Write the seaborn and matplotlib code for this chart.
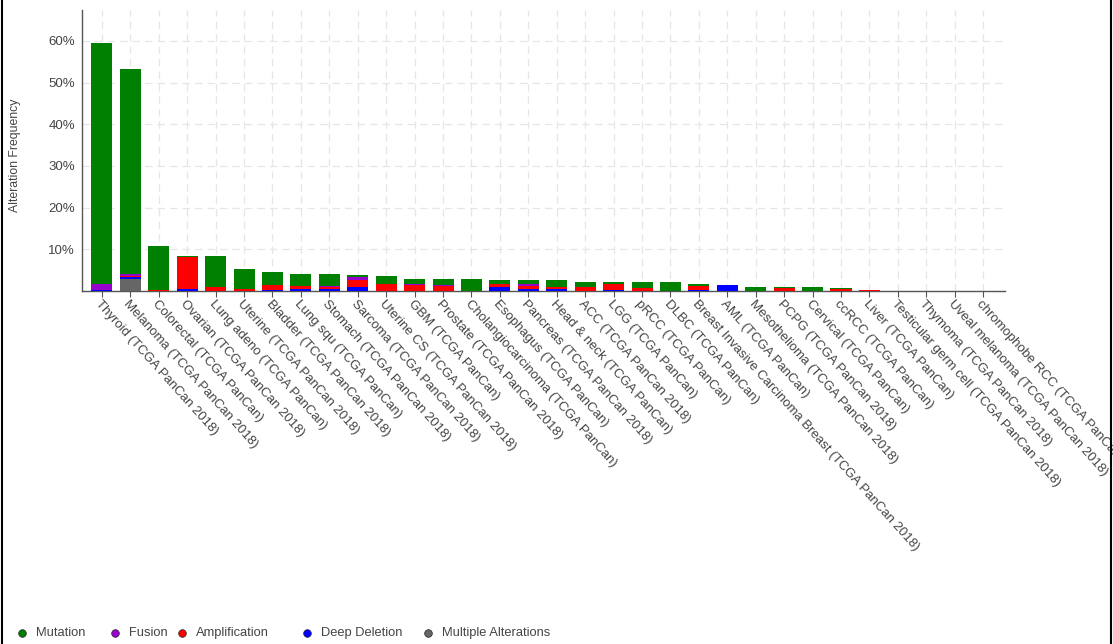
import matplotlib
matplotlib.use("Agg")
import matplotlib.pyplot as plt
from matplotlib.lines import Line2D
from matplotlib.ticker import FixedLocator, FuncFormatter
import seaborn as sns
import pandas as pd
import numpy as np

categories = [
    "Thyroid (TCGA PanCan 2018)", "Melanoma (TCGA PanCan 2018)", "Colorectal (TCGA PanCan)",
    "Ovarian (TCGA PanCan 2018)", "Lung adeno (TCGA PanCan)", "Uterine (TCGA PanCan 2018)",
    "Bladder (TCGA PanCan 2018)", "Lung squ (TCGA PanCan)", "Stomach (TCGA PanCan 2018)",
    "Sarcoma (TCGA PanCan 2018)", "Uterine CS (TCGA PanCan 2018)", "GBM (TCGA PanCan)",
    "Prostate (TCGA PanCan 2018)", "Cholangiocarcinoma (TCGA PanCan)", "Esophagus (TCGA PanCan)",
    "Pancreas (TCGA PanCan 2018)", "Head & neck (TCGA PanCan)", "ACC (TCGA PanCan 2018)",
    "LGG (TCGA PanCan)", "pRCC (TCGA PanCan)", "DLBC (TCGA PanCan)",
    "Breast Invasive Carcinoma Breast (TCGA PanCan 2018)", "AML (TCGA PanCan)",
    "Mesothelioma (TCGA PanCan 2018)", "PCPG (TCGA PanCan 2018)", "Cervical (TCGA PanCan)",
    "ccRCC (TCGA PanCan)", "Liver (TCGA PanCan)", "Testicular germ cell (TCGA PanCan 2018)",
    "Thymoma (TCGA PanCan 2018)", "Uveal melanoma (TCGA PanCan 2018)", "chromophobe RCC (TCGA PanCan)",
]

# alteration frequencies (%)
mutation = [57.9, 49.1, 10.5, 0.3, 7.4, 4.75, 3.2, 2.9, 3.0, 0.5, 1.7, 1.4, 1.5, 2.8, 1.0, 0.95,
            1.75, 1.1, 0.45, 1.45, 2.1, 0.55, 0.0, 1.1, 0.45, 1.0, 0.35, 0.0, 0.0, 0.0, 0.0, 0.0]
fusion = [1.3, 0.6, 0.1, 0.1, 0.0, 0.0, 0.0, 0.0, 0.15, 0.7, 0.0, 0.1, 0.15, 0.0, 0.0, 0.5,
          0.0, 0.0, 0.0, 0.0, 0.0, 0.0, 0.0, 0.0, 0.0, 0.0, 0.0, 0.0, 0.0, 0.0, 0.0, 0.0]
amplification = [0.0, 0.3, 0.2, 7.7, 1.0, 0.55, 1.15, 0.8, 0.4, 1.75, 1.8, 1.5, 1.3, 0.0, 0.65, 0.65,
                 0.5, 1.05, 1.35, 0.65, 0.0, 0.9, 0.0, 0.0, 0.65, 0.0, 0.4, 0.3, 0.0, 0.0, 0.0, 0.0]
deep_deletion = [0.3, 0.4, 0.0, 0.4, 0.0, 0.0, 0.2, 0.4, 0.6, 1.0, 0.0, 0.0, 0.0, 0.0, 1.0, 0.55,
                 0.4, 0.0, 0.3, 0.0, 0.0, 0.3, 1.45, 0.0, 0.0, 0.0, 0.0, 0.0, 0.0, 0.0, 0.0, 0.0]
multiple = [0.0, 2.9, 0.0, 0.0, 0.0, 0.0, 0.0, 0.0, 0.0, 0.0, 0.0, 0.0, 0.0, 0.0, 0.0, 0.0,
            0.0, 0.0, 0.0, 0.0, 0.0, 0.0, 0.0, 0.0, 0.0, 0.0, 0.0, 0.0, 0.0, 0.0, 0.0, 0.0]

series_names = ["Mutation", "Fusion", "Amplification", "Deep Deletion", "Multiple Alterations"]
colors = {"Mutation": "#008000", "Fusion": "#9900cc", "Amplification": "#ff0000",
          "Deep Deletion": "#0000ff", "Multiple Alterations": "#666666"}
y_ticks = [10, 20, 30, 40, 50, 60]

sns.set_theme(style="white")
plt.rcParams["font.family"] = ["Liberation Sans", "DejaVu Sans"]

fig = plt.figure(figsize=(11.13, 6.44), dpi=100)
ax = fig.add_axes([0.0737, 0.548, 0.8293, 0.4365])

df = pd.DataFrame({"cat": categories, "Mutation": mutation, "Fusion": fusion,
                   "Amplification": amplification, "Deep Deletion": deep_deletion,
                   "Multiple Alterations": multiple})
# cumulative stacks, bottom-up: multiple, deep deletion, amplification, fusion, mutation
stack_order = ["Multiple Alterations", "Deep Deletion", "Amplification", "Fusion", "Mutation"]
cum = np.zeros(len(categories))
cums = {}
for s in stack_order:
    cum = cum + df[s].to_numpy()
    cums[s] = cum.copy()

for s in reversed(stack_order):
    sns.barplot(x=df["cat"], y=cums[s], order=categories, color=colors[s], width=0.74,
                errorbar=None, saturation=1, linewidth=0, ax=ax, zorder=3)

ax.set_xlim(-0.7, len(categories) - 1 + 0.77)
ax.set_ylim(0, 67.4)
ax.yaxis.set_major_locator(FixedLocator(y_ticks))
ax.yaxis.set_major_formatter(FuncFormatter(lambda v, p: f"{int(v)}%"))
ax.grid(True, axis="both", color="#e3e6ea", linestyle=(0, (6, 4)), linewidth=0.9, zorder=0)
ax.set_axisbelow(True)
for sp in ["top", "right"]:
    ax.spines[sp].set_visible(False)
for sp in ["left", "bottom"]:
    ax.spines[sp].set_color("#555555")
    ax.spines[sp].set_linewidth(1.0)

ax.tick_params(axis="x", which="both", bottom=True, length=4, width=0.8, color="#555555", pad=1)
ax.tick_params(axis="y", left=False, length=0, labelsize=9.5, labelcolor="#444444", pad=5)
ax.set_xticks(range(len(categories)))
ax.set_xticklabels(categories, rotation=-48, ha="left", rotation_mode="anchor",
                   fontsize=9.5, color="#444444")
ax.set_xlabel("")
ax.set_ylabel("")
fig.text(0.0135, 1 - 155 / 644, "Alteration Frequency", rotation=90, ha="center", va="center",
         fontsize=8.8, color="#444444")

# legend
leg_x = [22, 115, 182, 307, 428]
leg_y = 1 - 633 / 644
for name, x in zip(series_names, leg_x):
    fig.add_artist(Line2D([x / 1113], [leg_y], marker="o", markersize=5.5, linestyle="",
                          color=colors[name], markeredgecolor="#222222", markeredgewidth=0.5))
    fig.text((x + 14) / 1113, leg_y, name, ha="left", va="center", fontsize=9.3, color="#444444")

# frame lines at image edges
fig.add_artist(Line2D([0.002, 0.002], [0, 1], color="black", linewidth=1.5))
fig.add_artist(Line2D([0.998, 0.998], [0, 1], color="black", linewidth=1.5))

fig.savefig("out.png", dpi=100)
